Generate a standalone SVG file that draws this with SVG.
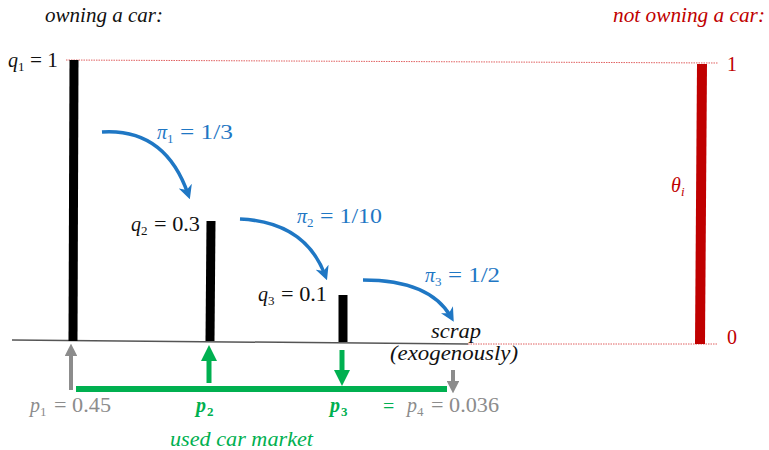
<svg xmlns="http://www.w3.org/2000/svg" width="769" height="450" viewBox="0 0 769 450">
<style>
text{font-family:"Liberation Serif","Times New Roman",serif;font-size:20px}
.it{font-style:italic}
.sb{font-size:13px}
.blk{fill:#111}
.red{fill:#C00000}
.blu{fill:#1F77C4}
.grn{fill:#00B050}
.gry{fill:#8C8C8C}
.bar{stroke:#000;stroke-width:9}
.flow{fill:none;stroke:#1F77C4;stroke-width:3.5}
</style>
<defs>
<marker id="ab" viewBox="0 0 10 10" refX="6" refY="5" markerWidth="4" markerHeight="4" orient="auto"><path d="M0,0 L10,5 L0,10 L3,5 z" fill="#1F77C4"/></marker>
<marker id="ag" viewBox="0 0 10 10" refX="5" refY="5" markerWidth="3.2" markerHeight="3.2" orient="auto"><path d="M0,0 L10,5 L0,10 z" fill="#00B050"/></marker>
<marker id="ay" viewBox="0 0 10 10" refX="5" refY="5" markerWidth="3.2" markerHeight="3.2" orient="auto"><path d="M0,0 L10,5 L0,10 z" fill="#8C8C8C"/></marker>
</defs>
<g id="axes">
<line x1="12" y1="340" x2="468" y2="344" stroke="#555" stroke-width="1.5"/>
<line x1="468" y1="344" x2="718" y2="344" stroke="#E06060" stroke-width="1" stroke-dasharray="1.5,1"/>
<line x1="66" y1="60" x2="718" y2="63" stroke="#E06060" stroke-width="1" stroke-dasharray="1.5,1"/>
</g>
<text x="45" y="22" class="it blk" font-size="19" textLength="118" lengthAdjust="spacingAndGlyphs">owning a car:</text>
<text x="765" y="22" class="it red" font-size="19" text-anchor="end" textLength="152" lengthAdjust="spacingAndGlyphs">not owning a car:</text>
<g id="bar1"><line x1="74" y1="60" x2="73" y2="341" class="bar"/><text x="8" y="67" class="it blk">q</text><text x="18" y="71" class="blk sb">1</text><text x="30" y="67" class="blk" textLength="28" lengthAdjust="spacingAndGlyphs">= 1</text></g>
<g id="bar2"><line x1="211" y1="221" x2="210" y2="341" class="bar"/><text x="131" y="231" class="it blk">q</text><text x="141" y="235" class="blk sb">2</text><text x="154" y="231" class="blk" textLength="46" lengthAdjust="spacingAndGlyphs">= 0.3</text></g>
<g id="bar3"><line x1="343" y1="295" x2="343" y2="342" class="bar"/><text x="258" y="301" class="it blk">q</text><text x="268" y="305" class="blk sb">3</text><text x="281" y="301" class="blk" textLength="46" lengthAdjust="spacingAndGlyphs">= 0.1</text></g>
<g id="theta"><line x1="702" y1="64" x2="700" y2="344" stroke="#C00000" stroke-width="10"/><text x="727" y="71" class="red">1</text><text x="727" y="344" class="red">0</text><text x="671" y="192" class="it red">θ</text><text x="681" y="196" class="it red sb">i</text></g>
<g id="scrap"><text x="431" y="338" class="it blk" font-size="19" textLength="50" lengthAdjust="spacingAndGlyphs">scrap</text><text x="390" y="360" class="it blk" font-size="19" textLength="128" lengthAdjust="spacingAndGlyphs">(exogenously)</text></g>
<g id="connectors">
<path d="M102,132 Q165,128 188,194" class="flow" marker-end="url(#ab)"/>
<path d="M240,219 Q305,222 325,275" class="flow" marker-end="url(#ab)"/>
<path d="M363,280 Q430,280 451,317" class="flow" marker-end="url(#ab)"/>
<line x1="71" y1="390" x2="71" y2="350" stroke="#8C8C8C" stroke-width="4" marker-end="url(#ay)"/>
<line x1="76" y1="389" x2="447" y2="389" stroke="#00B050" stroke-width="6"/>
<line x1="209" y1="383" x2="209" y2="353" stroke="#00B050" stroke-width="5" marker-end="url(#ag)"/>
<line x1="342" y1="350" x2="342" y2="378" stroke="#00B050" stroke-width="5" marker-end="url(#ag)"/>
<line x1="453" y1="370" x2="453" y2="387" stroke="#8C8C8C" stroke-width="4" marker-end="url(#ay)"/>
</g>
<g id="labels">
<text x="157" y="139" class="it blu">π</text><text x="167" y="143" class="blu sb">1</text><text x="180" y="139" class="blu" textLength="53" lengthAdjust="spacingAndGlyphs">= 1/3</text>
<text x="297" y="223" class="it blu">π</text><text x="307" y="227" class="blu sb">2</text><text x="320" y="223" class="blu" textLength="62" lengthAdjust="spacingAndGlyphs">= 1/10</text>
<text x="425" y="282" class="it blu">π</text><text x="435" y="286" class="blu sb">3</text><text x="448" y="282" class="blu" textLength="52" lengthAdjust="spacingAndGlyphs">= 1/2</text>
<text x="30" y="412" class="it gry">p</text><text x="40" y="416" class="gry sb">1</text><text x="54" y="412" class="gry" textLength="57" lengthAdjust="spacingAndGlyphs">= 0.45</text>
<text x="196" y="412" class="it grn" font-weight="bold">p</text><text x="207" y="416" class="grn sb" font-weight="bold">2</text>
<text x="330" y="412" class="it grn" font-weight="bold">p</text><text x="341" y="416" class="grn sb" font-weight="bold">3</text>
<text x="383" y="413" class="grn" font-size="10">=</text>
<text x="407" y="412" class="it gry">p</text><text x="417" y="416" class="gry sb">4</text><text x="431" y="412" class="gry" textLength="68" lengthAdjust="spacingAndGlyphs">= 0.036</text>
<text x="170" y="446" class="it grn" font-size="19" textLength="143" lengthAdjust="spacingAndGlyphs">used car market</text>
</g>
</svg>
